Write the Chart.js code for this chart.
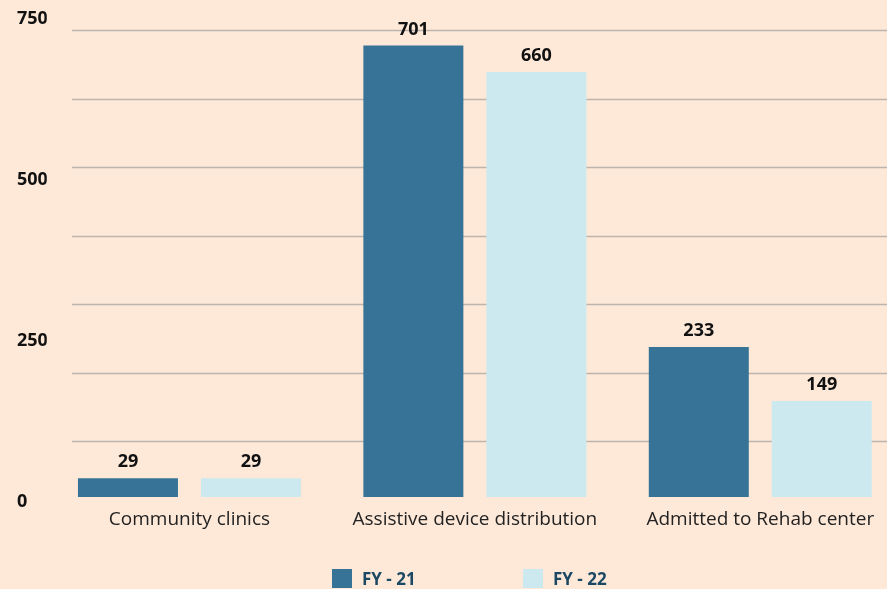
<!DOCTYPE html>
<html>
<head>
<meta charset="utf-8">
<script src="https://cdn.jsdelivr.net/npm/chart.js@4/dist/chart.umd.min.js"></script>
<style>
  html, body { margin: 0; padding: 0; background: #fee9d9; overflow: hidden; }
  body { width: 887px; height: 589px; position: relative; }
  #wrap { position: absolute; left: 0; top: 0; width: 903px; height: 589px; }
  #legend { position: absolute; left: 0; top: 567px; width: 887px; height: 22px; font: bold 17px "Open Sans", sans-serif; color: #1b4862; }
  .item { position: absolute; top: 0; display: flex; align-items: center; }
  .box { width: 20px; height: 19px; margin-right: 10px; }
</style>
</head>
<body>
<div id="wrap"><canvas id="chart"></canvas></div>
<div id="legend"></div>
<script>
// categories and values
const categories = ['Community clinics', 'Assistive device distribution', 'Admitted to Rehab center'];
const seriesNames = ['FY - 21', 'FY - 22'];
const fy21 = [29, 701, 233];
const fy22 = [29, 660, 149];
const yTicks = [0, 250, 500, 750];
const gridValues = [86.5, 193, 299, 405.5, 512, 618.5, 725];

const colors = ['#367396', '#cce9ef'];
const legendX = [332, 523];

// value labels above bars
const barLabels = {
  id: 'barLabels',
  afterDatasetsDraw(chart){
    const ctx = chart.ctx;
    ctx.save();
    ctx.font = 'bold 18px "Open Sans", sans-serif';
    ctx.fillStyle = '#111';
    ctx.textAlign = 'center';
    ctx.textBaseline = 'middle';
    chart.data.datasets.forEach((ds, i) => {
      chart.getDatasetMeta(i).data.forEach((bar, j) => {
        ctx.fillText(ds.data[j], bar.x, bar.y - 16);
      });
    });
    ctx.restore();
  }
};

// horizontal rules, they start a bit right of the axis
const rules = {
  id: 'rules',
  beforeDatasetsDraw(chart){
    const ctx = chart.ctx, y = chart.scales.y;
    ctx.save();
    ctx.strokeStyle = '#bdb4ae';
    ctx.lineWidth = 1.5;
    for (const v of gridValues){
      const py = Math.round(y.getPixelForValue(v)) + 0.5;
      ctx.beginPath();
      ctx.moveTo(72, py);
      ctx.lineTo(chart.chartArea.right, py);
      ctx.stroke();
    }
    ctx.restore();
  }
};

const chart = new Chart(document.getElementById('chart'), {
  type: 'bar',
  data: {
    labels: categories,
    datasets: [
      { label: seriesNames[0], data: fy21, backgroundColor: colors[0], categoryPercentage: 0.862, barPercentage: 0.813 },
      { label: seriesNames[1], data: fy22, backgroundColor: colors[1], categoryPercentage: 0.862, barPercentage: 0.813 }
    ]
  },
  options: {
    responsive: true,
    maintainAspectRatio: false,
    animation: false,
    layout: { padding: { left: 17, right: 0, top: 14, bottom: 0 } },
    plugins: { legend: { display: false }, tooltip: { enabled: false } },
    scales: {
      x: {
        grid: { display: false },
        border: { display: false },
        ticks: { color: '#222', font: { family: 'Open Sans', size: 19 }, padding: 3, maxRotation: 0 },
        afterFit(s){ s.height = 92; }
      },
      y: {
        min: 0, max: 750,
        grid: { display: false },
        border: { display: false },
        afterBuildTicks(s){ s.ticks = yTicks.map(v => ({ value: v })); },
        afterFit(s){ s.width = 29.75; },
        ticks: { color: '#111', crossAlign: 'far', padding: 0, labelOffset: 5, font: { family: 'Open Sans', size: 18, weight: 'bold' } }
      }
    }
  },
  plugins: [rules, barLabels]
});

// legend below the plot
const legend = document.getElementById('legend');
chart.data.datasets.forEach((ds, i) => {
  const it = document.createElement('div');
  it.className = 'item';
  it.style.left = legendX[i] + 'px';
  it.innerHTML = '<span class="box" style="background:' + ds.backgroundColor + '"></span><span>' + ds.label + '</span>';
  legend.appendChild(it);
});
</script>
</body>
</html>
